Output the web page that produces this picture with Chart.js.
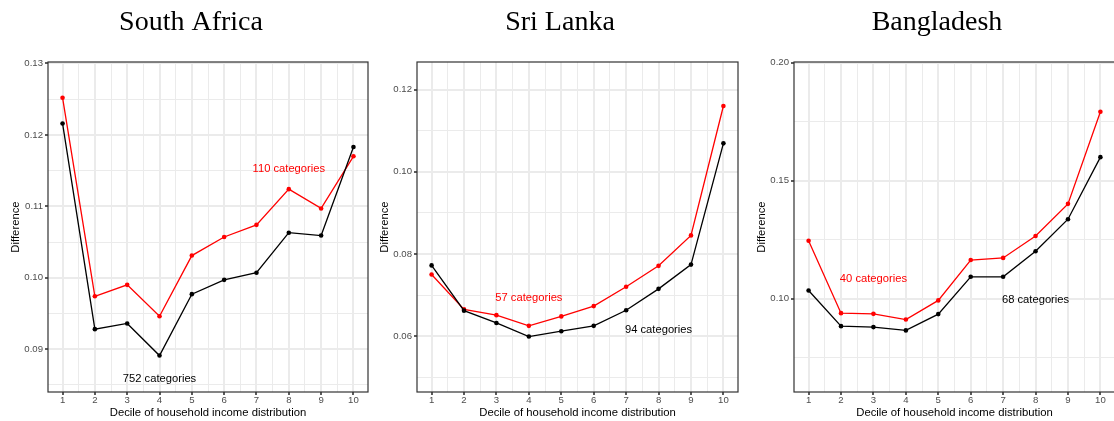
<!DOCTYPE html>
<html>
<head>
<meta charset="utf-8">
<script src="https://cdn.jsdelivr.net/npm/chart.js@4.4.1/dist/chart.umd.min.js"></script>
<style>
  html, body { margin: 0; padding: 0; background: #ffffff; overflow: hidden; width: 1114px; height: 421px; }
  canvas { position: absolute; top: 0; }
</style>
</head>
<body>
<canvas id="southAfrica" width="361" height="421" style="left:8px"></canvas>
<canvas id="sriLanka" width="362" height="421" style="left:377px"></canvas>
<canvas id="bangladesh" width="362" height="421" style="left:754px"></canvas>
<script>
// Income deciles (x axis) and the minor grid positions between them
const deciles = [1, 2, 3, 4, 5, 6, 7, 8, 9, 10];
const decileMinor = [1.5, 2.5, 3.5, 4.5, 5.5, 6.5, 7.5, 8.5, 9.5];

// South Africa
const saRed   = [0.1252, 0.0974, 0.0990, 0.0946, 0.1031, 0.1057, 0.1074, 0.1124, 0.1097, 0.1170];
const saBlack = [0.1216, 0.0928, 0.0936, 0.0891, 0.0977, 0.0997, 0.1007, 0.1063, 0.1059, 0.1183];
const saTicks = [0.09, 0.10, 0.11, 0.12, 0.13];
const saTickLabels = ['0.09', '0.10', '0.11', '0.12', '0.13'];
const saMinorTicks = [0.085, 0.095, 0.105, 0.115, 0.125];
const saNotes = ['110 categories', '752 categories'];
const saNoteX = [8, 4];
const saNoteY = [0.1153, 0.0859];

// Sri Lanka
const slRed   = [0.0750, 0.0665, 0.0651, 0.0625, 0.0648, 0.0673, 0.0720, 0.0771, 0.0845, 0.1160];
const slBlack = [0.0772, 0.0662, 0.0632, 0.0599, 0.0612, 0.0625, 0.0663, 0.0715, 0.0774, 0.1069];
const slTicks = [0.06, 0.08, 0.10, 0.12];
const slTickLabels = ['0.06', '0.08', '0.10', '0.12'];
const slMinorTicks = [0.05, 0.07, 0.09, 0.11];
const slNotes = ['57 categories', '94 categories'];
const slNoteX = [4, 8];
const slNoteY = [0.0693, 0.0614];

// Bangladesh
const bdRed   = [0.1246, 0.0939, 0.0936, 0.0912, 0.0993, 0.1164, 0.1173, 0.1266, 0.1402, 0.1792];
const bdBlack = [0.1035, 0.0884, 0.0880, 0.0866, 0.0935, 0.1093, 0.1093, 0.1201, 0.1337, 0.1600];
const bdTicks = [0.10, 0.15, 0.20];
const bdTickLabels = ['0.10', '0.15', '0.20'];
const bdMinorTicks = [0.075, 0.125, 0.175];
const bdNotes = ['40 categories', '68 categories'];
const bdNoteX = [3, 8];
const bdNoteY = [0.1083, 0.0997];

const noteColors = ['#ff0000', '#000000'];

Chart.defaults.font.family = '"Liberation Sans", Arial, sans-serif';

function near(a, b) { return Math.abs(a - b) < 1e-9; }

function panel(id, title, red, black, yMin, yMax, majors, majorLabels, minors, notes, noteX, noteY) {
  const isMajorY = v => majors.some(m => near(m, v));
  const isMajorX = v => deciles.some(m => near(m, v));

  const decorations = {
    id: 'decorations',
    afterDatasetsDraw(chart) {
      const { ctx, chartArea: a, scales } = chart;
      ctx.save();
      // panel frame
      ctx.strokeStyle = '#333333';
      ctx.lineWidth = 1.2;
      ctx.strokeRect(a.left, a.top, a.right - a.left, a.bottom - a.top);
      // in-plot notes
      ctx.font = '11.2px "Liberation Sans", Arial, sans-serif';
      ctx.textAlign = 'center';
      ctx.textBaseline = 'middle';
      notes.forEach((t, i) => {
        ctx.fillStyle = noteColors[i];
        ctx.fillText(t, scales.x.getPixelForValue(noteX[i]), scales.y.getPixelForValue(noteY[i]));
      });
      // panel heading
      ctx.fillStyle = '#000000';
      ctx.font = '28px "Liberation Serif", "Times New Roman", serif';
      ctx.textBaseline = 'alphabetic';
      ctx.fillText(title, a.left + 143, 29.5);
      ctx.restore();
    }
  };

  const pts = arr => deciles.map((d, i) => ({ x: d, y: arr[i] }));
  const line = (arr, color) => ({
    data: pts(arr),
    borderColor: color,
    backgroundColor: color,
    borderWidth: 1.3,
    pointRadius: 2.3,
    pointBorderWidth: 0,
    pointBackgroundColor: color,
    tension: 0,
    clip: false
  });

  const gridColor = '#ebebeb';

  new Chart(document.getElementById(id), {
    type: 'line',
    data: { datasets: [line(black, '#000000'), line(red, '#ff0000')] },
    options: {
      responsive: false,
      animation: false,
      events: [],
      layout: { autoPadding: false, padding: { top: 62, left: 0, right: 1, bottom: 0 } },
      plugins: { legend: { display: false }, tooltip: { enabled: false }, title: { display: false } },
      scales: {
        x: {
          type: 'linear',
          min: 0.55,
          max: 10.45,
          afterBuildTicks: s => { s.ticks = deciles.concat(decileMinor).sort((a, b) => a - b).map(v => ({ value: v })); },
          afterFit: s => { s.height = 29; s.paddingLeft = 0; s.paddingRight = 0; },
          border: { display: false },
          grid: {
            color: gridColor,
            lineWidth: c => (c.tick && isMajorX(c.tick.value)) ? 2 : 1,
            tickLength: 3,
            tickWidth: 1.6,
            tickColor: c => (c.tick && isMajorX(c.tick.value)) ? '#333333' : 'rgba(0,0,0,0)'
          },
          ticks: {
            autoSkip: false,
            maxRotation: 0,
            padding: 0,
            color: '#4d4d4d',
            font: { size: 9.6 },
            callback: v => isMajorX(v) ? String(Math.round(v)) : ''
          },
          title: {
            display: true,
            text: 'Decile of household income distribution',
            color: '#000000',
            font: { size: 11.3 },
            padding: { top: 0, bottom: 1.2 }
          }
        },
        y: {
          type: 'linear',
          min: yMin,
          max: yMax,
          afterBuildTicks: s => { s.ticks = majors.concat(minors).sort((a, b) => a - b).map(v => ({ value: v })); },
          afterFit: s => { s.width = 40; s.paddingTop = 0; s.paddingBottom = 0; },
          border: { display: false },
          grid: {
            color: gridColor,
            lineWidth: c => (c.tick && isMajorY(c.tick.value)) ? 2 : 1,
            tickLength: 3,
            tickWidth: 1.6,
            tickColor: c => (c.tick && isMajorY(c.tick.value)) ? '#333333' : 'rgba(0,0,0,0)'
          },
          ticks: {
            autoSkip: false,
            padding: 2,
            color: '#4d4d4d',
            font: { size: 9.6 },
            callback: v => {
              const i = majors.findIndex(m => near(m, v));
              return i >= 0 ? majorLabels[i] : '';
            }
          },
          title: {
            display: true,
            text: 'Difference',
            color: '#000000',
            font: { size: 11.3 },
            padding: { top: 0.7, bottom: 0 }
          }
        }
      }
    },
    plugins: [decorations]
  });
}

panel('southAfrica', 'South Africa', saRed, saBlack, 0.0840, 0.1302,
      saTicks, saTickLabels, saMinorTicks, saNotes, saNoteX, saNoteY);
panel('sriLanka', 'Sri Lanka', slRed, slBlack, 0.0464, 0.1267,
      slTicks, slTickLabels, slMinorTicks, slNotes, slNoteX, slNoteY);
panel('bangladesh', 'Bangladesh', bdRed, bdBlack, 0.0605, 0.2003,
      bdTicks, bdTickLabels, bdMinorTicks, bdNotes, bdNoteX, bdNoteY);
</script>
</body>
</html>
